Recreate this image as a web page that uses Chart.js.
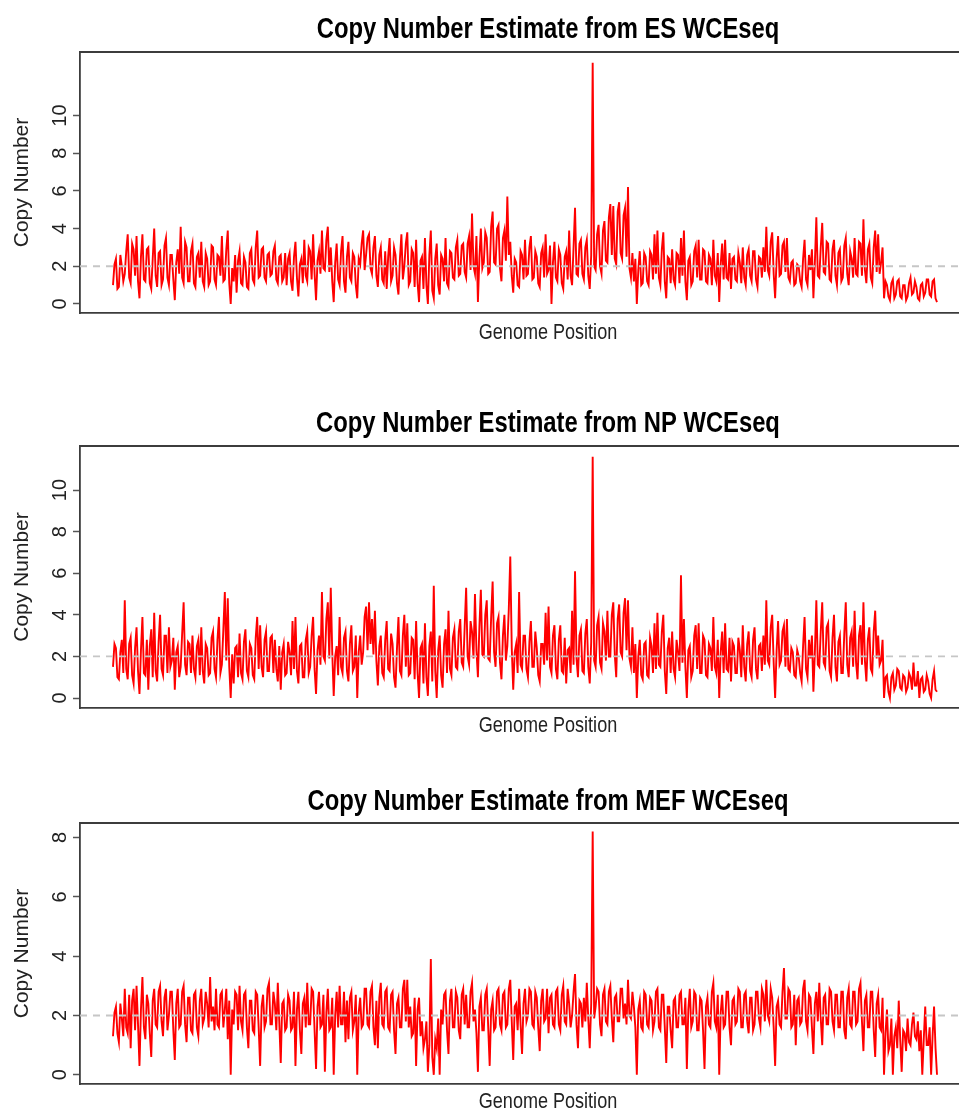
<!DOCTYPE html>
<html>
<head>
<meta charset="utf-8">
<script src="https://cdn.jsdelivr.net/npm/chart.js@4.4.0/dist/chart.umd.min.js"></script>
<style>
  html, body { margin: 0; padding: 0; background: #fff; }
  #wrap { position: relative; width: 959px; height: 1115px; overflow: hidden; }
  canvas { position: absolute; left: 0; }
</style>
</head>
<body>
<div id="wrap">
  <canvas id="esChart" width="959" height="390" style="top:0px"></canvas>
  <canvas id="npChart" width="959" height="380" style="top:390px"></canvas>
  <canvas id="mefChart" width="959" height="345" style="top:770px"></canvas>
</div>
<script>
// copy number estimates along the genome (one value per bin)
const esCopyNumber = [
  1.0, 2.1, 2.4, 0.8, 0.9, 2.6, 2.0, 1.2, 1.6, 2.8, 3.7, 1.4, 1.1, 3.2, 2.9, 1.5, 3.6, 1.2, 0.3, 2.5,
  3.7, 1.3, 1.2, 2.9, 3.0, 1.1, 0.8, 2.4, 4.0, 1.5, 0.9, 2.7, 2.8, 1.0, 1.3, 3.1, 3.5, 1.4, 1.0, 2.6,
  2.6, 1.3, 0.2, 2.2, 2.9, 1.6, 4.1, 1.4, 1.1, 3.3, 3.0, 1.2, 1.2, 2.8, 3.2, 1.1, 0.9, 2.5, 2.7, 1.4,
  3.3, 1.2, 0.9, 2.7, 2.4, 1.0, 1.2, 3.1, 3.0, 1.3, 1.0, 2.6, 2.5, 1.5, 3.6, 1.2, 1.3, 2.9, 3.9, 1.1,
  0.0, 1.9, 1.2, 2.6, 0.6, 2.3, 2.8, 1.1, 1.0, 2.5, 2.2, 0.9, 0.8, 2.7, 2.9, 1.3, 1.1, 3.0, 3.9, 1.4,
  1.5, 2.9, 3.0, 1.4, 1.2, 2.6, 2.7, 1.5, 1.6, 2.8, 3.1, 1.3, 1.1, 2.5, 2.6, 1.2, 1.4, 2.7, 1.0, 2.4,
  2.7, 1.2, 0.7, 2.5, 3.3, 1.4, 0.4, 2.1, 2.4, 1.1, 3.4, 1.5, 1.2, 3.0, 2.8, 1.3, 3.7, 1.6, 0.2, 2.3,
  2.8, 1.6, 3.9, 1.9, 1.8, 3.4, 4.1, 1.7, 3.0, 1.2, 0.1, 2.2, 3.2, 1.3, 1.0, 2.8, 3.6, 1.2, 0.6, 2.5,
  3.3, 1.4, 1.2, 2.7, 2.5, 1.0, 0.3, 2.4, 2.1, 3.2, 3.9, 1.8, 2.6, 3.5, 3.7, 1.9, 1.6, 3.0, 3.6, 1.5,
  0.9, 2.6, 3.0, 1.3, 1.1, 2.8, 0.8, 2.5, 3.5, 1.2, 1.5, 3.0, 2.6, 1.1, 0.5, 2.4, 3.7, 1.3, 2.0, 3.2,
  3.8, 1.0, 1.2, 2.9, 2.7, 0.9, 3.4, 1.1, 0.1, 2.3, 2.5, 0.8, 3.5, 1.0, 0.0, 2.6, 3.9, 0.7, 0.3, 2.4,
  3.2, 1.0, 0.5, 2.6, 2.4, 1.2, 3.5, 1.1, 0.9, 2.8, 2.7, 1.4, 1.3, 3.0, 3.4, 1.5, 1.6, 3.1, 3.2, 1.7,
  1.4, 3.2, 3.6, 1.8, 4.8, 2.0, 1.6, 3.6, 0.1, 2.4, 4.0, 1.9, 2.2, 3.8, 3.5, 1.6, 1.7, 4.1, 4.9, 2.2,
  2.1, 4.0, 4.2, 1.9, 1.2, 3.5, 3.9, 2.3, 5.7, 2.6, 3.3, 1.5, 0.6, 2.4, 2.2, 1.0, 0.9, 2.8, 2.6, 1.3,
  3.4, 1.5, 1.6, 3.0, 3.6, 1.3, 1.4, 2.8, 2.5, 1.1, 0.9, 2.7, 3.0, 1.4, 3.7, 1.6, 1.8, 3.1, 0.0, 2.2,
  3.3, 1.4, 1.2, 2.9, 2.6, 1.1, 0.8, 2.5, 2.8, 1.3, 3.9, 1.5, 1.0, 3.0, 5.1, 1.6, 1.5, 3.2, 3.4, 1.6,
  1.3, 3.0, 3.4, 1.5, 0.8, 2.6, 12.8, 2.0, 1.8, 3.7, 4.2, 2.0, 1.6, 3.9, 4.4, 2.3, 2.2, 4.6, 5.3, 2.6,
  5.2, 2.4, 2.1, 4.9, 5.4, 2.7, 2.4, 4.7, 5.1, 2.5, 6.2, 1.9, 1.4, 2.7, 1.2, 2.4, 0.0, 1.8, 2.8, 1.0,
  1.1, 2.7, 2.5, 1.2, 1.0, 2.8, 2.6, 1.3, 3.7, 1.6, 3.9, 1.4, 1.0, 2.9, 3.8, 1.2, 0.3, 2.5, 2.4, 1.1,
  2.9, 1.3, 1.0, 2.7, 2.6, 1.1, 3.5, 1.5, 3.9, 1.2, 0.2, 2.3, 2.5, 1.0, 1.2, 2.8, 3.1, 1.4, 3.4, 1.3,
  1.3, 2.9, 2.8, 1.2, 1.1, 2.6, 2.4, 1.0, 3.4, 1.5, 1.2, 2.7, 0.1, 2.1, 3.2, 1.3, 3.4, 1.4, 1.3, 2.7,
  0.8, 2.4, 2.5, 1.3, 1.2, 2.7, 2.2, 1.1, 3.0, 1.4, 1.0, 2.6, 2.9, 1.5, 1.2, 2.8, 2.8, 1.3, 0.9, 2.5,
  2.4, 1.4, 3.0, 1.7, 4.1, 1.8, 1.5, 3.3, 3.8, 1.6, 0.3, 2.4, 3.6, 1.5, 1.6, 3.1, 3.3, 1.7, 3.5, 1.4,
  1.2, 2.2, 2.3, 1.0, 1.1, 2.1, 2.0, 1.2, 0.9, 2.4, 3.4, 1.3, 1.0, 2.6, 1.8, 2.9, 0.3, 2.2, 4.6, 1.5,
  1.4, 3.0, 4.3, 1.7, 1.6, 3.3, 3.2, 1.3, 1.2, 2.9, 3.4, 1.5, 1.0, 2.7, 2.9, 1.2, 1.4, 3.1, 3.5, 1.6,
  1.0, 2.8, 2.4, 1.4, 3.5, 1.6, 1.5, 3.3, 3.2, 1.5, 4.5, 1.8, 1.1, 2.9, 3.2, 1.4, 1.1, 3.0, 3.9, 1.7,
  3.7, 1.6, 2.2, 3.0, 0.3, 1.2, 1.0, 0.4, 0.2, 1.1, 1.3, 0.3, 0.5, 1.2, 1.3, 0.4, 0.3, 1.0, 1.0, 0.2,
  0.4, 1.1, 1.4, 0.5, 0.6, 1.2, 0.9, 0.3, 0.2, 1.0, 1.1, 0.4, 0.6, 1.3, 1.3, 0.5, 0.4, 1.2, 1.3, 0.3,
  0.1
];
const npCopyNumber = [
  1.5, 2.6, 2.4, 1.0, 0.9, 2.2, 2.8, 1.2, 4.7, 1.4, 0.9, 2.6, 2.9, 1.1, 0.7, 2.4, 3.4, 1.3, 0.2, 2.3,
  3.9, 1.2, 1.1, 2.8, 0.4, 2.5, 3.3, 1.0, 4.1, 1.3, 0.8, 2.7, 4.0, 1.4, 1.1, 3.0, 3.0, 1.2, 3.4, 1.5,
  1.8, 2.9, 0.4, 2.2, 2.5, 1.0, 1.5, 3.1, 4.6, 1.6, 1.1, 2.7, 2.6, 1.2, 3.0, 1.4, 1.0, 2.5, 2.8, 1.1,
  3.4, 1.3, 0.7, 2.6, 2.4, 1.1, 1.2, 2.9, 3.2, 1.4, 1.0, 2.8, 3.9, 1.2, 1.6, 3.3, 5.1, 1.8, 4.8, 1.5,
  0.0, 2.1, 0.7, 2.4, 2.5, 1.0, 3.1, 1.2, 0.9, 2.7, 3.3, 1.3, 1.0, 2.6, 2.4, 1.1, 0.9, 2.9, 3.9, 1.4,
  3.5, 1.5, 1.0, 2.8, 3.2, 1.3, 1.3, 2.9, 3.0, 1.2, 2.8, 1.4, 0.8, 2.5, 0.4, 2.2, 2.6, 1.1, 1.2, 2.7,
  2.2, 1.1, 3.7, 1.4, 3.9, 1.3, 0.7, 2.5, 2.6, 1.0, 1.0, 2.8, 3.2, 1.2, 1.5, 3.0, 3.9, 1.4, 0.2, 2.3,
  3.0, 1.6, 5.1, 2.0, 1.8, 3.8, 4.6, 1.9, 5.3, 2.2, 0.1, 2.0, 2.5, 1.1, 3.9, 1.5, 1.2, 2.9, 3.2, 1.3,
  0.8, 2.6, 3.5, 1.3, 1.5, 3.0, 0.0, 2.2, 3.0, 1.6, 2.2, 3.9, 4.4, 2.3, 4.6, 2.6, 3.8, 2.1, 4.2, 1.8,
  0.6, 2.5, 3.0, 1.2, 1.0, 2.8, 3.7, 1.4, 1.3, 3.1, 2.6, 1.0, 0.5, 2.4, 3.9, 1.3, 1.1, 3.0, 4.0, 1.5,
  3.6, 1.1, 1.2, 2.9, 2.8, 0.9, 3.7, 1.2, 0.0, 2.4, 2.6, 0.7, 3.6, 1.0, 0.1, 2.5, 3.2, 0.8, 5.4, 1.3,
  0.0, 2.3, 3.0, 1.1, 0.5, 2.6, 3.3, 1.2, 4.2, 1.4, 1.1, 2.9, 3.3, 1.5, 1.4, 3.2, 3.8, 1.7, 1.5, 3.4,
  5.3, 2.0, 1.6, 3.7, 3.2, 1.9, 5.0, 2.3, 1.0, 3.4, 5.2, 2.1, 2.0, 4.0, 4.7, 1.9, 1.8, 3.9, 5.6, 2.2,
  1.5, 3.6, 3.9, 1.7, 0.9, 3.0, 4.0, 1.8, 2.5, 4.3, 6.8, 2.4, 0.4, 2.2, 2.6, 1.2, 5.1, 1.6, 1.4, 3.0,
  3.0, 1.4, 1.0, 2.7, 3.7, 1.5, 1.5, 3.2, 2.4, 1.1, 0.8, 2.6, 2.6, 1.6, 4.1, 1.8, 4.4, 1.5, 1.2, 3.0,
  3.5, 1.4, 0.9, 2.8, 3.5, 1.3, 1.2, 2.9, 0.7, 2.3, 2.4, 1.2, 4.2, 1.6, 6.1, 1.9, 1.0, 3.0, 3.3, 1.3,
  1.2, 3.1, 3.8, 1.5, 0.7, 2.7, 11.6, 1.8, 1.5, 3.5, 3.9, 1.7, 1.4, 3.6, 3.2, 1.8, 4.2, 2.0, 2.0, 4.0,
  4.6, 2.1, 1.0, 3.8, 4.5, 2.2, 2.0, 4.1, 4.8, 2.3, 4.7, 1.9, 1.5, 3.4, 1.2, 2.6, 0.0, 2.0, 2.8, 1.1,
  0.9, 2.6, 2.7, 1.1, 1.0, 2.9, 2.5, 1.2, 3.6, 1.4, 4.1, 1.6, 1.5, 3.2, 4.0, 1.3, 0.2, 2.4, 2.9, 1.2,
  3.2, 1.4, 1.0, 2.8, 2.2, 1.3, 5.9, 1.7, 3.8, 1.5, 0.0, 2.3, 2.5, 1.0, 1.3, 3.0, 3.5, 1.4, 3.6, 1.2,
  1.2, 3.0, 2.8, 1.1, 1.0, 2.6, 2.4, 1.3, 3.9, 1.5, 1.2, 2.8, 0.0, 2.2, 3.2, 1.2, 3.6, 1.4, 1.3, 2.9,
  0.8, 2.7, 2.5, 1.2, 1.2, 2.9, 2.3, 1.0, 3.5, 1.5, 0.8, 2.6, 3.2, 1.3, 1.0, 2.8, 3.4, 1.4, 0.9, 2.5,
  2.6, 1.3, 3.0, 1.6, 4.7, 1.8, 1.6, 3.4, 4.0, 1.7, 0.0, 2.3, 3.7, 1.6, 1.8, 3.2, 3.5, 1.5, 3.8, 1.4,
  1.3, 2.4, 2.2, 1.1, 1.0, 2.3, 2.0, 1.2, 0.8, 2.5, 3.9, 1.4, 1.0, 2.8, 1.9, 3.0, 0.3, 2.2, 4.7, 1.6,
  1.5, 3.2, 4.6, 1.7, 1.5, 3.4, 3.6, 1.3, 1.0, 2.9, 4.0, 1.5, 0.8, 2.7, 3.0, 1.2, 1.2, 3.1, 4.6, 1.6,
  1.0, 2.9, 3.2, 1.5, 4.2, 1.7, 0.9, 3.0, 3.5, 1.6, 4.6, 1.8, 0.8, 2.8, 3.4, 1.4, 1.2, 3.2, 4.2, 1.9,
  3.0, 1.6, 1.8, 2.8, 0.0, 1.0, 1.1, 0.3, 0.0, 1.0, 1.2, 0.4, 0.6, 1.4, 1.3, 0.5, 0.4, 1.1, 1.0, 0.3,
  0.5, 1.2, 1.0, 0.4, 1.7, 0.6, 0.6, 1.3, 0.0, 0.9, 1.0, 0.3, 0.4, 1.1, 0.8, 0.2, 0.0, 0.9, 1.3, 0.4,
  0.3
];
const mefCopyNumber = [
  1.3, 2.1, 2.3, 1.4, 1.1, 2.4, 1.9, 1.3, 2.9, 1.6, 1.4, 2.7, 0.9, 2.5, 2.9, 1.5, 3.0, 1.7, 0.3, 2.2,
  3.3, 1.6, 1.2, 2.7, 2.4, 1.4, 0.6, 2.5, 2.9, 1.7, 1.6, 2.8, 3.0, 1.8, 1.3, 2.6, 2.9, 1.5, 2.0, 2.8,
  2.8, 1.5, 0.5, 2.4, 2.9, 1.6, 1.7, 2.8, 3.0, 1.7, 1.1, 2.6, 2.6, 1.5, 1.4, 2.7, 2.8, 1.6, 1.3, 2.5,
  2.9, 1.7, 1.9, 2.8, 2.4, 1.6, 3.3, 1.8, 2.3, 1.5, 2.9, 1.7, 1.6, 2.7, 2.8, 1.6, 2.2, 2.9, 1.2, 2.5,
  0.0, 2.2, 1.7, 2.8, 2.7, 1.5, 3.0, 1.8, 1.5, 2.7, 2.8, 1.6, 0.9, 2.5, 2.5, 1.5, 1.4, 2.8, 2.7, 1.6,
  0.3, 2.3, 2.7, 1.6, 1.8, 2.9, 3.1, 1.7, 1.7, 2.8, 2.4, 1.5, 3.1, 1.8, 0.4, 2.4, 2.5, 1.5, 1.6, 2.7,
  2.5, 1.5, 1.6, 2.8, 0.3, 2.2, 2.8, 1.5, 0.7, 2.4, 2.6, 1.6, 3.1, 1.7, 1.7, 2.9, 2.8, 1.5, 0.2, 2.3,
  2.8, 1.6, 1.7, 2.7, 0.1, 2.1, 2.9, 1.5, 1.6, 2.6, 0.0, 2.0, 2.8, 1.6, 3.0, 1.7, 1.7, 2.8, 1.1, 2.5,
  1.2, 2.6, 2.8, 1.5, 1.8, 2.7, 0.0, 2.1, 2.6, 1.6, 1.7, 2.9, 2.9, 1.7, 1.6, 2.8, 3.0, 1.6, 1.0, 2.5,
  0.9, 2.6, 3.1, 1.7, 1.6, 2.8, 2.9, 1.6, 1.5, 2.7, 2.8, 1.5, 0.7, 2.4, 2.6, 1.6, 1.6, 2.9, 3.2, 1.8,
  3.2, 1.6, 2.3, 1.3, 1.4, 2.6, 0.3, 2.2, 2.6, 1.3, 1.8, 0.9, 1.2, 1.8, 0.1, 1.0, 3.9, 0.6, 0.0, 1.2,
  0.9, 1.9, 0.0, 2.2, 1.7, 2.7, 2.8, 1.5, 0.7, 2.5, 2.9, 1.6, 1.6, 2.8, 2.6, 1.5, 1.2, 2.7, 2.9, 1.7,
  2.7, 1.6, 1.6, 2.8, 3.1, 1.8, 2.2, 1.4, 0.1, 2.3, 2.6, 1.5, 1.5, 2.7, 2.9, 1.6, 0.3, 2.2, 2.5, 1.5,
  1.6, 2.8, 2.9, 1.7, 1.5, 2.7, 2.8, 1.6, 1.7, 2.9, 3.2, 1.8, 0.5, 2.3, 2.4, 1.5, 2.9, 1.7, 0.7, 2.4,
  2.9, 1.8, 2.0, 2.9, 2.8, 1.7, 1.6, 2.8, 2.6, 1.6, 0.8, 2.5, 2.9, 1.8, 1.9, 2.9, 1.4, 2.6, 2.7, 1.7,
  1.6, 2.8, 2.9, 1.7, 1.5, 2.7, 3.0, 1.8, 1.7, 2.9, 2.4, 1.6, 2.0, 2.8, 3.4, 1.7, 0.9, 2.5, 2.4, 1.6,
  2.6, 1.8, 3.1, 1.9, 0.9, 2.4, 8.2, 1.9, 2.3, 2.9, 2.8, 1.7, 1.3, 2.7, 2.9, 1.8, 1.7, 2.8, 3.0, 1.9,
  1.1, 2.6, 2.7, 1.8, 1.8, 2.9, 2.9, 1.9, 2.4, 1.7, 3.2, 2.0, 1.9, 2.8, 2.3, 1.6, 0.0, 2.2, 2.5, 1.6,
  1.5, 2.8, 2.7, 1.7, 1.6, 2.6, 2.5, 1.5, 1.8, 2.8, 2.9, 1.6, 1.5, 2.7, 2.7, 1.6, 0.4, 2.3, 2.3, 1.5,
  0.9, 2.5, 2.6, 1.6, 1.6, 2.7, 2.8, 1.7, 1.7, 2.6, 0.2, 2.2, 2.9, 1.6, 1.8, 2.8, 2.7, 1.5, 1.5, 2.6,
  2.5, 1.5, 0.2, 2.3, 2.6, 1.7, 1.6, 2.8, 3.1, 1.8, 1.6, 2.7, 0.0, 2.1, 2.7, 1.6, 1.7, 2.8, 2.8, 1.6,
  1.0, 2.5, 2.6, 1.7, 1.8, 2.9, 2.8, 1.6, 1.6, 2.7, 2.8, 1.8, 1.4, 2.6, 2.6, 1.5, 1.7, 2.8, 2.8, 1.9,
  1.6, 2.9, 2.7, 1.8, 3.2, 2.0, 1.8, 2.9, 2.6, 1.6, 0.3, 2.3, 2.5, 1.7, 1.6, 2.8, 3.6, 1.9, 1.9, 2.9,
  2.8, 1.6, 1.7, 2.7, 1.0, 2.5, 2.6, 1.7, 1.8, 2.9, 3.2, 1.8, 1.5, 2.7, 2.6, 1.6, 0.7, 2.4, 2.8, 1.8,
  3.1, 1.9, 1.0, 2.6, 2.7, 1.7, 1.7, 2.9, 2.8, 1.8, 1.5, 2.7, 2.7, 1.6, 1.6, 2.8, 2.8, 1.5, 1.2, 2.6,
  2.9, 1.7, 1.6, 2.8, 2.8, 1.7, 1.8, 2.9, 3.1, 1.8, 0.8, 2.5, 2.7, 1.6, 1.6, 2.8, 2.8, 1.5, 0.6, 2.4,
  2.7, 1.6, 1.5, 2.6, 0.0, 1.4, 2.2, 0.8, 1.0, 1.9, 0.0, 1.3, 1.6, 0.9, 2.5, 1.2, 0.1, 1.5, 1.4, 0.8,
  1.9, 1.1, 1.0, 1.7, 2.1, 1.3, 1.2, 1.8, 0.8, 1.5, 0.0, 1.2, 2.3, 1.0, 1.0, 1.6, 0.0, 1.3, 2.3, 0.9,
  0.0
];

// tick labels of each panel and the dashed reference level
const esTicks = [0, 2, 4, 6, 8, 10];
const npTicks = [0, 2, 4, 6, 8, 10];
const mefTicks = [0, 2, 4, 6, 8];
const refLevel = 2;

const yLabel = 'Copy Number';
const xLabel = 'Genome Position';

// pixel layout (first/last bin and plot frame)
const FIRST_X = 113, LAST_X = 937, AREA_LEFT = 80, AREA_RIGHT = 959;
const FRAME = '#3c3c3c';

// narrow text: Liberation Sans squeezed sideways (no Arial Narrow here)
function narrowText(ctx, text, x, y, font, squeeze) {
  ctx.save();
  ctx.font = font;
  ctx.translate(x, y);
  ctx.scale(squeeze, 1);
  ctx.fillText(text, 0, 0);
  ctx.restore();
}

// draws frame top, rotated tick labels and the texts
const decor = {
  id: 'decor',
  afterDraw(chart, args, opts) {
    const { ctx, chartArea: a } = chart;
    const y = chart.scales.y;
    ctx.save();

    ctx.strokeStyle = FRAME;
    ctx.lineWidth = 1.8;
    ctx.beginPath();
    ctx.moveTo(a.left - 0.9, a.top);
    ctx.lineTo(a.right, a.top);
    ctx.stroke();

    // y tick labels, turned like in R
    ctx.fillStyle = '#222';
    ctx.font = '20px "Liberation Sans", Arial, sans-serif';
    ctx.textAlign = 'center';
    ctx.textBaseline = 'middle';
    y.ticks.forEach(t => {
      ctx.save();
      ctx.translate(60, y.getPixelForValue(t.value));
      ctx.rotate(-Math.PI / 2);
      ctx.fillText(String(t.value), 0, 0);
      ctx.restore();
    });

    // y axis title
    ctx.font = '21px "Liberation Sans", Arial, sans-serif';
    ctx.save();
    ctx.translate(22, (a.top + a.bottom) / 2);
    ctx.rotate(-Math.PI / 2);
    ctx.fillText(yLabel, 0, 0);
    ctx.restore();

    // panel title
    ctx.fillStyle = '#000';
    ctx.textBaseline = 'alphabetic';
    narrowText(ctx, opts.title, 548, opts.titleY,
      'bold 29px "Liberation Sans", Arial, sans-serif', 0.82);

    // x axis title
    ctx.fillStyle = '#222';
    narrowText(ctx, xLabel, 548, opts.xLabelY,
      '22px "Liberation Sans", Arial, sans-serif', 0.82);

    ctx.restore();
  }
};

function makePanel(id, values, ticks, yMin, yMax, title, pad, titleY, xLabelY) {
  // map the bins so the first and last land where they sit in the figure
  const k = (LAST_X - FIRST_X) / (values.length - 1);
  const xMin = -(FIRST_X - AREA_LEFT) / k;
  const xMax = values.length - 1 + (AREA_RIGHT - LAST_X) / k;

  return new Chart(document.getElementById(id).getContext('2d'), {
    type: 'line',
    data: {
      datasets: [
        {
          data: [{ x: xMin, y: refLevel }, { x: xMax, y: refLevel }],
          borderColor: '#c6c6c6',
          borderWidth: 1.8,
          borderDash: [7, 6],
          pointRadius: 0,
          order: 1
        },
        {
          data: values.map((v, i) => ({ x: i, y: v })),
          borderColor: '#ff0000',
          borderWidth: 1.9,
          pointRadius: 0,
          tension: 0,
          order: 2
        }
      ]
    },
    options: {
      responsive: false,
      animation: false,
      events: [],
      layout: { padding: { left: AREA_LEFT - 10, right: 0, top: pad[0], bottom: pad[1] } },
      plugins: {
        legend: { display: false },
        tooltip: { enabled: false },
        decor: { title: title, titleY: titleY, xLabelY: xLabelY }
      },
      scales: {
        x: {
          type: 'linear',
          min: xMin,
          max: xMax,
          afterFit: s => { s.height = 0; },
          ticks: { display: false },
          grid: { display: false },
          border: { display: true, color: FRAME, width: 1.8 }
        },
        y: {
          type: 'linear',
          min: yMin,
          max: yMax,
          afterBuildTicks: s => { s.ticks = ticks.map(v => ({ value: v })); },
          afterFit: s => { s.width = 10; },
          ticks: { display: false },
          grid: {
            display: true,
            drawOnChartArea: false,
            drawTicks: true,
            tickLength: 7,
            tickColor: '#555',
            tickWidth: 1.5
          },
          border: { display: true, color: FRAME, width: 1.8 }
        }
      }
    },
    plugins: [decor]
  });
}

makePanel('esChart', esCopyNumber, esTicks, -0.48, 13.37,
  'Copy Number Estimate from ES WCEseq', [52, 77], 38, 339);
makePanel('npChart', npCopyNumber, npTicks, -0.48, 12.12,
  'Copy Number Estimate from NP WCEseq', [56, 62], 42, 342);
makePanel('mefChart', mefCopyNumber, mefTicks, -0.31, 8.49,
  'Copy Number Estimate from MEF WCEseq', [53, 31], 40, 338);
</script>
</body>
</html>
